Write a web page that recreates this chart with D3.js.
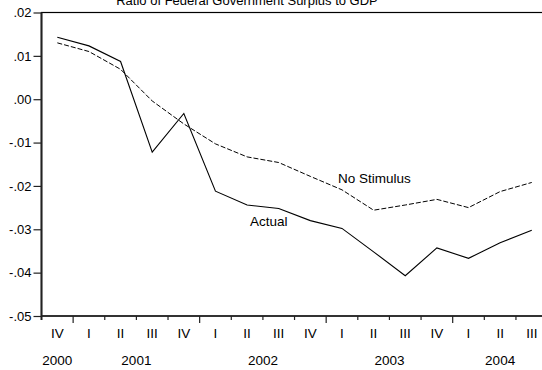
<!DOCTYPE html>
<html>
<head>
<meta charset="utf-8">
<script src="https://cdn.jsdelivr.net/npm/d3@7"></script>
<style>
  html, body { margin: 0; padding: 0; background: #fff; }
  svg { display: block; font-family: "Liberation Sans", Arial, sans-serif; }
</style>
</head>
<body>
<svg id="chart" width="542" height="370"></svg>
<script>
// Quarterly ratio of federal surplus to GDP, 2000 Q4 – 2004 Q3
const quarters = ["IV","I","II","III","IV","I","II","III","IV","I","II","III","IV","I","II","III"];
const years = ["2000","2001","2002","2003","2004"];
const yearFirstQuarter = [0, 1, 5, 9, 13];
const yearLastQuarter = [0, 4, 8, 12, 15];
const actual = [0.0143, 0.0123, 0.0087, -0.0122, -0.0033, -0.0212, -0.0244, -0.0252,
                -0.0280, -0.0298, -0.0352, -0.0407, -0.0343, -0.0367, -0.0331, -0.0302];
const noStimulus = [0.0130, 0.0110, 0.0069, -0.0004, -0.0057, -0.0103, -0.0133, -0.0146,
                    -0.0178, -0.0209, -0.0256, -0.0244, -0.0231, -0.0250, -0.0213, -0.0192];
const yTicks = [0.02, 0.01, 0.00, -0.01, -0.02, -0.03, -0.04, -0.05];
const title = "Ratio of Federal Government Surplus to GDP";

const svg = d3.select("#chart");
const plotLeft = 41.5, plotTop = 12.5, plotBottom = 316, step = 31.63;
const plotRight = plotLeft + quarters.length * step;

const x = d3.scaleBand().domain(d3.range(quarters.length)).range([plotLeft, plotRight]).padding(0);
const y = d3.scaleLinear().domain([-0.05, 0.02]).range([plotBottom, plotTop]);
const cx = i => x(i) + x.bandwidth() / 2;

const fmt = v => (v < 0 ? "-" : "") + d3.format(".2f")(Math.abs(v)).replace(/^0/, "");

// frame
svg.append("rect")
  .attr("x", plotLeft).attr("y", plotTop)
  .attr("width", plotRight - plotLeft).attr("height", plotBottom - plotTop)
  .attr("fill", "none").attr("stroke", "#000").attr("stroke-width", 1.2);
svg.append("line").attr("x1", plotLeft).attr("x2", plotLeft).attr("y1", plotTop).attr("y2", plotBottom + 4)
  .attr("stroke", "#222").attr("stroke-width", 2);
svg.append("line").attr("x1", plotLeft).attr("x2", plotRight).attr("y1", plotBottom).attr("y2", plotBottom)
  .attr("stroke", "#222").attr("stroke-width", 1.6);

// y axis
const yAxis = d3.axisLeft(y).tickValues(yTicks).tickFormat(fmt).tickSize(8).tickPadding(2);
const gy = svg.append("g").attr("transform", `translate(${plotLeft},0)`).call(yAxis);
gy.select(".domain").remove();
gy.selectAll(".tick line").attr("stroke", "#222").attr("stroke-width", 1.2);
gy.selectAll(".tick text").attr("font-size", 13).attr("fill", "#000").attr("font-family", "Liberation Sans, Arial, sans-serif");

// x ticks at quarter boundaries; longer ones at year boundaries
const bounds = d3.range(1, quarters.length);
svg.append("g").selectAll("line").data(bounds).join("line")
  .attr("x1", i => x(i)).attr("x2", i => x(i))
  .attr("y1", plotBottom)
  .attr("y2", i => plotBottom + (yearFirstQuarter.includes(i) ? 7 : 4))
  .attr("stroke", "#222").attr("stroke-width", 1.2);

// quarter labels
svg.append("g").selectAll("text").data(quarters).join("text")
  .attr("x", (d, i) => cx(i)).attr("y", 338)
  .attr("text-anchor", "middle").attr("font-size", 13.5)
  .text(d => d);

// year labels
svg.append("g").selectAll("text").data(years).join("text")
  .attr("x", (d, i) => (x(yearFirstQuarter[i]) + x(yearLastQuarter[i]) + x.bandwidth()) / 2)
  .attr("y", 365)
  .attr("text-anchor", "middle").attr("font-size", 13.5)
  .text(d => d);

// title
svg.append("text").attr("x", 247).attr("y", 4.5)
  .attr("text-anchor", "middle").attr("font-size", 13)
  .text(title);

// series
const line = d3.line().x((d, i) => cx(i)).y(d => y(d));
svg.append("path").datum(noStimulus).attr("d", line)
  .attr("fill", "none").attr("stroke", "#000").attr("stroke-width", 1)
  .attr("stroke-dasharray", "5,2");
svg.append("path").datum(actual).attr("d", line)
  .attr("fill", "none").attr("stroke", "#000").attr("stroke-width", 1.1);

// series labels
svg.append("text").attr("x", 338).attr("y", 183).attr("font-size", 13.5).text("No Stimulus");
svg.append("text").attr("x", 250).attr("y", 226).attr("font-size", 13.5).text("Actual");
</script>
</body>
</html>
